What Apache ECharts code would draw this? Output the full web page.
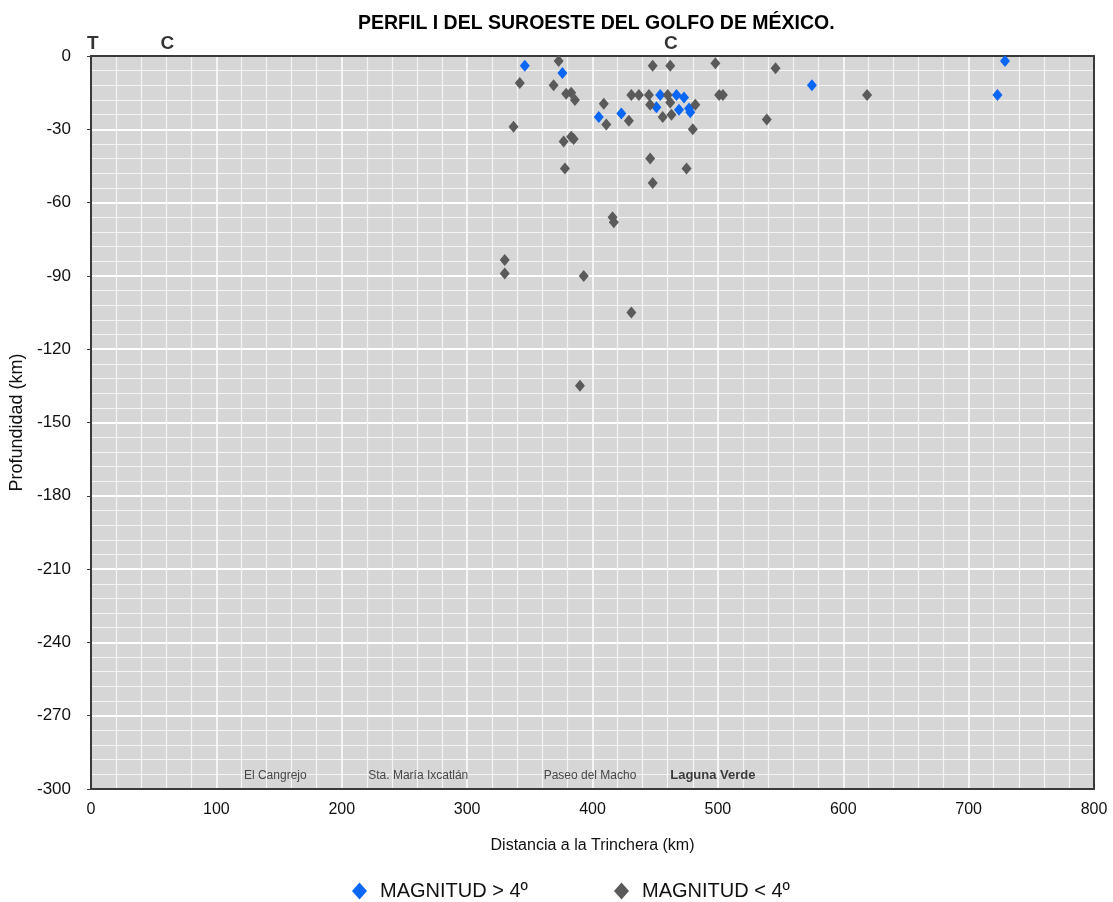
<!DOCTYPE html>
<html>
<head>
<meta charset="utf-8">
<script src="https://cdn.jsdelivr.net/npm/echarts@6/dist/echarts.min.js"></script>
<style>
  html, body { margin: 0; padding: 0; background: #ffffff; }
  #chart { width: 1113px; height: 902px; }
</style>
</head>
<body>
<div id="chart"></div>
<script>
// Hypocentres along the profile: [distance to trench (km), depth (km)]
const magnitudAlta = [
  [346, -4], [376, -7], [405, -25], [423, -23.5], [451, -21], [454, -16],
  [467, -16], [469, -22], [473, -17], [477, -21.5], [478, -23], [575, -12],
  [729, -2], [723, -16]
];
const magnitudBaja = [
  [373, -2], [342, -11], [369, -12], [379, -15.5], [383, -15], [386, -18],
  [409, -19.5], [411, -28], [337, -29], [377, -35], [383, -33], [385, -34],
  [431, -16], [437, -16], [445, -16], [448, -4], [446, -20], [429, -26.5],
  [456, -25], [460, -16], [462, -4], [462, -19], [463, -24], [482, -20],
  [480, -30], [498, -3], [501, -16], [504, -16], [546, -5], [539, -26],
  [619, -16], [446, -42], [378, -46], [475, -46], [448, -52], [416, -66],
  [417, -68], [330, -83.5], [330, -89], [393, -90], [431, -105], [390, -135]
];

// Reference marks above the section (trench, coast) and towns along the surface
const marcasSuperiores = [
  { name: 'T', value: [1.5, 5] },
  { name: 'C', value: [61, 5] },
  { name: 'C', value: [462.5, 5] }
];
const poblaciones = [
  { name: 'El Cangrejo', value: [147, -294.5] },
  { name: 'Sta. María Ixcatlán', value: [261, -294.5] },
  { name: 'Paseo del Macho', value: [398, -294.5] }
];
const poblacionDestacada = [
  { name: 'Laguna Verde', value: [496, -294.5] }
];

const xRange = [0, 800];
const yRange = [-300, 0];
const nombres = ['MAGNITUD > 4º', 'MAGNITUD < 4º'];

const FONT = "'Liberation Sans', Arial, Helvetica, sans-serif";
const FRAME = '#3a3a3a';

const chart = echarts.init(document.getElementById('chart'), null, { renderer: 'canvas' });

const labelSeries = (data, style) => ({
  type: 'scatter',
  data: data,
  symbolSize: 0,
  clip: false,
  silent: true,
  z: 5,
  label: Object.assign({
    show: true,
    position: 'inside',
    formatter: '{b}',
    color: '#111'
  }, style)
});

// Axis used only to draw the frame on the top / right edges
const frameAxis = (position, range) => ({
  type: 'value',
  position: position,
  min: range[0], max: range[1],
  axisLine: { show: true, onZero: false, lineStyle: { color: FRAME, width: 2 } },
  axisTick: { show: false },
  axisLabel: { show: false },
  splitLine: { show: false }
});

chart.setOption({
  animation: false,
  backgroundColor: '#ffffff',
  title: {
    text: 'PERFIL I DEL SUROESTE DEL GOLFO DE MÉXICO.',
    left: 353,
    top: 9,
    textStyle: {
      fontFamily: FONT,
      fontWeight: 'bold',
      fontSize: 19.5,
      color: '#000'
    }
  },
  grid: {
    left: 91, right: 19, top: 56, bottom: 113,
    show: true,
    backgroundColor: '#d6d6d6',
    borderWidth: 0
  },
  legend: [
    {
      data: [nombres[0]],
      left: 347, top: 876,
      icon: 'diamond',
      itemWidth: 15, itemHeight: 17,
      textStyle: { fontFamily: FONT, fontSize: 20, color: '#111', padding: [0, 0, 0, 8] }
    },
    {
      data: [nombres[1]],
      left: 609, top: 876,
      icon: 'diamond',
      itemWidth: 15, itemHeight: 17,
      textStyle: { fontFamily: FONT, fontSize: 20, color: '#111', padding: [0, 0, 0, 8] }
    }
  ],
  xAxis: [
    {
      type: 'value',
      min: xRange[0], max: xRange[1], interval: 100,
      name: 'Distancia a la Trinchera (km)',
      nameLocation: 'middle',
      nameGap: 49,
      nameTextStyle: { fontFamily: FONT, fontSize: 16, color: '#111' },
      axisLine: { show: true, onZero: false, lineStyle: { color: FRAME, width: 2 } },
      axisTick: { show: false },
      axisLabel: { fontFamily: FONT, fontSize: 16, color: '#111', margin: 13 },
      splitLine: { show: true, lineStyle: { color: '#ffffff', width: 1.5 } },
      minorTick: { show: false, splitNumber: 5 },
      minorSplitLine: { show: true, lineStyle: { color: '#f4f4f4', width: 1.2 } }
    },
    frameAxis('top', xRange)
  ],
  yAxis: [
    {
      type: 'value',
      min: yRange[0], max: yRange[1], interval: 30,
      name: 'Profundidad (km)',
      nameLocation: 'middle',
      nameGap: 62,
      nameTextStyle: { fontFamily: FONT, fontSize: 18, color: '#111' },
      axisLine: { show: true, onZero: false, lineStyle: { color: FRAME, width: 2 } },
      axisTick: { show: true, length: 4, lineStyle: { color: FRAME } },
      axisLabel: { fontFamily: FONT, fontSize: 17, color: '#111', margin: 20 },
      splitLine: { show: true, lineStyle: { color: '#ffffff', width: 2 } },
      minorTick: { show: false, splitNumber: 5 },
      minorSplitLine: { show: true, lineStyle: { color: '#f4f4f4', width: 1.2 } }
    },
    frameAxis('right', yRange)
  ],
  series: [
    {
      name: nombres[0],
      type: 'scatter',
      data: magnitudAlta,
      symbol: 'diamond',
      symbolSize: [10, 12],
      itemStyle: { color: '#0a66f5', opacity: 1 },
      z: 3
    },
    {
      name: nombres[1],
      type: 'scatter',
      data: magnitudBaja,
      symbol: 'diamond',
      symbolSize: [10, 12],
      itemStyle: { color: '#5a5a5a', opacity: 1 },
      z: 4
    },
    labelSeries(marcasSuperiores, { fontFamily: FONT, fontWeight: 'bold', fontSize: 19, color: '#000' }),
    labelSeries(poblaciones, { fontFamily: FONT, fontSize: 12, color: '#222' }),
    labelSeries(poblacionDestacada, { fontFamily: FONT, fontWeight: 'bold', fontSize: 13, color: '#111' })
  ]
});
</script>
</body>
</html>
